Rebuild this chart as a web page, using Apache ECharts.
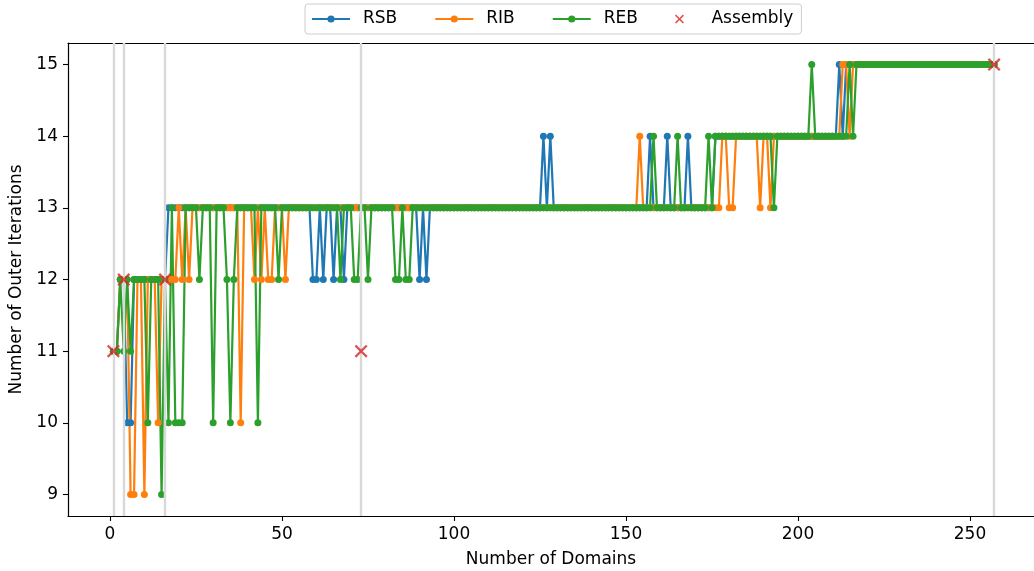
<!DOCTYPE html>
<html>
<head>
<meta charset="utf-8">
<script src="https://cdn.jsdelivr.net/npm/echarts@6/dist/echarts.min.js"></script>
<style>
html,body{margin:0;padding:0;background:#fff;}
#chart{width:1034px;height:571px;}
</style>
</head>
<body>
<div id="chart"></div>
<script>
// Values per number of domains (index 0 -> 1 domain)
const rsb = [
 11,11,12,12,10,10,12,12,12,12,
 12,12,12,12,12,12,13,13,13,13,
 13,13,13,13,13,13,13,13,13,13,
 13,13,13,13,13,13,13,13,13,13,
 13,13,13,13,13,13,13,13,13,13,
 13,13,13,13,13,13,13,13,12,12,
 13,12,13,13,12,13,13,12,13,13,
 13,13,13,13,13,13,13,13,13,13,
 13,13,13,13,13,13,13,13,13,12,
 13,12,13,13,13,13,13,13,13,13,
 13,13,13,13,13,13,13,13,13,13,
 13,13,13,13,13,13,13,13,13,13,
 13,13,13,13,13,14,13,14,13,13,
 13,13,13,13,13,13,13,13,13,13,
 13,13,13,13,13,13,13,13,13,13,
 13,13,13,13,13,13,14,13,13,13,
 13,14,13,13,13,13,13,14,13,13,
 13,13,13,13,13,14,14,14,14,14,
 14,14,14,14,14,14,14,14,14,14,
 14,14,14,14,14,14,14,14,14,14,
 14,14,14,14,14,14,14,14,14,14,
 14,15,14,15,15,15,15,15,15,15,
 15,15,15,15,15,15,15,15,15,15,
 15,15,15,15,15,15,15,15,15,15,
 15,15,15,15,15,15,15,15,15,15,
 15,15,15,15,15,15,15
];
const rib = [
 11,11,12,12,12,9,9,12,12,9,
 12,12,12,10,12,12,12,12,12,13,
 12,13,12,13,13,13,13,13,13,13,
 13,13,13,13,13,13,13,10,13,13,
 13,12,13,12,13,12,12,13,13,13,
 12,13,13,13,13,13,13,13,13,13,
 13,13,13,13,13,13,13,13,13,13,
 13,13,13,13,13,13,13,13,13,13,
 13,13,13,13,13,13,13,13,13,13,
 13,13,13,13,13,13,13,13,13,13,
 13,13,13,13,13,13,13,13,13,13,
 13,13,13,13,13,13,13,13,13,13,
 13,13,13,13,13,13,13,13,13,13,
 13,13,13,13,13,13,13,13,13,13,
 13,13,13,13,13,13,13,13,13,13,
 13,13,13,14,13,13,13,13,13,13,
 13,13,13,13,13,13,13,13,13,13,
 13,13,13,13,13,13,13,14,14,13,
 13,14,14,14,14,14,14,14,13,14,
 14,13,14,14,14,14,14,14,14,14,
 14,14,14,14,14,14,14,14,14,14,
 14,14,15,15,14,15,15,15,15,15,
 15,15,15,15,15,15,15,15,15,15,
 15,15,15,15,15,15,15,15,15,15,
 15,15,15,15,15,15,15,15,15,15,
 15,15,15,15,15,15,15
];
const reb = [
 11,11,12,11,12,11,12,12,12,12,
 10,12,12,12,9,12,10,13,10,10,
 10,13,13,13,13,12,13,13,13,10,
 13,13,13,12,10,12,13,13,13,13,
 13,13,10,13,13,13,13,13,12,13,
 13,13,13,13,13,13,13,13,13,13,
 13,13,13,13,13,13,12,13,13,13,
 12,12,13,13,12,13,13,13,13,13,
 13,13,12,12,13,12,12,13,13,13,
 13,13,13,13,13,13,13,13,13,13,
 13,13,13,13,13,13,13,13,13,13,
 13,13,13,13,13,13,13,13,13,13,
 13,13,13,13,13,13,13,13,13,13,
 13,13,13,13,13,13,13,13,13,13,
 13,13,13,13,13,13,13,13,13,13,
 13,13,13,13,13,13,13,14,13,13,
 13,13,13,13,14,13,13,13,13,13,
 13,13,13,14,13,14,14,14,14,14,
 14,14,14,14,14,14,14,14,14,14,
 14,14,13,14,14,14,14,14,14,14,
 14,14,14,15,14,14,14,14,14,14,
 14,14,14,14,15,14,15,15,15,15,
 15,15,15,15,15,15,15,15,15,15,
 15,15,15,15,15,15,15,15,15,15,
 15,15,15,15,15,15,15,15,15,15,
 15,15,15,15,15,15,15
];
const assemblyDomains = [1, 4, 16, 73, 257];
const assemblyIters = [11, 12, 12, 11, 15];
const xTicks = [0, 50, 100, 150, 200, 250];
const yTicks = [9, 10, 11, 12, 13, 14, 15];

const pair = arr => arr.map((v, i) => [i + 1, v]);
const FONT = 'DejaVu Sans';
const FS = 17;
const X_PATH = 'path://M0,1.5L1.5,0L6,4.5L10.5,0L12,1.5L7.5,6L12,10.5L10.5,12L6,7.5L1.5,12L0,10.5L4.5,6Z';
const XMIN = -12.2, XMAX = 268.6;

function lineSeries(name, color, arr) {
  return {
    name, type: 'line', data: pair(arr), z: 3,
    symbol: 'circle', symbolSize: 7, showSymbol: true, showAllSymbol: true,
    lineStyle: { color, width: 2.2 }, itemStyle: { color },
    emphasis: { disabled: true }
  };
}

const chart = echarts.init(document.getElementById('chart'), null, { renderer: 'canvas' });
chart.setOption({
  animation: false,
  backgroundColor: '#ffffff',
  textStyle: { fontFamily: FONT },
  grid: { left: 68, right: 0, top: 43, bottom: 55, show: false, containLabel: false, outerBoundsMode: 'none' },
  legend: {
    left: 305, top: 4,
    data: ['RSB', 'RIB', 'REB', { name: 'Assembly', icon: X_PATH }],
    itemWidth: 38, itemHeight: 9, itemGap: 37,
    padding: [5, 8, 5, 6],
    borderColor: '#cccccc', borderWidth: 1, borderRadius: 3,
    textStyle: { fontFamily: FONT, fontSize: FS, color: '#000', padding: [0, 0, 0, 8], lineHeight: 20 }
  },
  xAxis: [{
    type: 'value', min: XMIN, max: XMAX,
    name: 'Number of Domains', nameLocation: 'middle', nameGap: 35,
    nameTextStyle: { fontFamily: FONT, fontSize: FS, color: '#000' },
    axisLine: { show: true, onZero: false, lineStyle: { color: '#000', width: 1.2 } },
    axisTick: { show: true, length: 5, customValues: xTicks, lineStyle: { color: '#000', width: 1.1 } },
    axisLabel: { customValues: xTicks, fontFamily: FONT, fontSize: FS, color: '#000', margin: 10 },
    splitLine: { show: false }
  }, {
    type: 'value', position: 'top', min: XMIN, max: XMAX,
    axisLine: { show: true, onZero: false, lineStyle: { color: '#000', width: 1.2 } },
    axisTick: { show: false }, axisLabel: { show: false }, splitLine: { show: false }
  }],
  yAxis: {
    type: 'value', min: 8.7, max: 15.3,
    name: 'Number of Outer Iterations', nameLocation: 'middle', nameGap: 40,
    nameTextStyle: { fontFamily: FONT, fontSize: FS, color: '#000' },
    axisLine: { show: true, onZero: false, lineStyle: { color: '#000', width: 1.2 } },
    axisTick: { show: true, length: 5, customValues: yTicks, lineStyle: { color: '#000', width: 1.1 } },
    axisLabel: { customValues: yTicks, fontFamily: FONT, fontSize: FS, color: '#000', margin: 10 },
    splitLine: { show: false }
  },
  series: [
    {
      name: 'vlines', type: 'line', data: [], z: 1,
      markLine: {
        silent: true, symbol: ['none', 'none'], label: { show: false },
        lineStyle: { color: '#d9d9d9', width: 2.4, type: 'solid' },
        emphasis: { disabled: true },
        data: assemblyDomains.map(d => ({ xAxis: d }))
      }
    },
    lineSeries('RSB', '#1f77b4', rsb),
    lineSeries('RIB', '#ff7f0e', rib),
    lineSeries('REB', '#2ca02c', reb),
    {
      name: 'Assembly', type: 'scatter', z: 5,
      data: assemblyDomains.map((d, i) => [d, assemblyIters[i]]),
      symbol: X_PATH, symbolSize: 13,
      itemStyle: { color: '#d62728' },
      emphasis: { disabled: true }
    }
  ]
});
</script>
</body>
</html>
